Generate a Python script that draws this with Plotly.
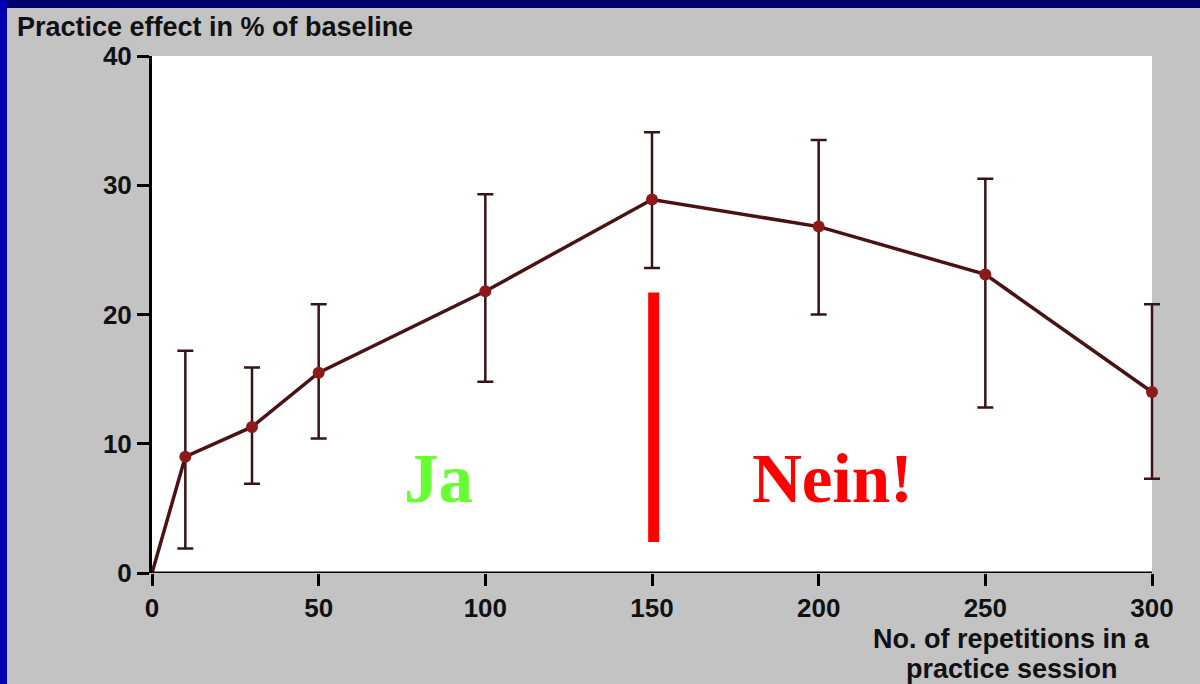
import plotly.graph_objects as go

# Data
reps = [0, 10, 30, 50, 100, 150, 200, 250, 300]
effect = [0, 9.0, 11.3, 15.5, 21.8, 28.9, 26.8, 23.1, 14.0]
upper = [0, 17.2, 15.9, 20.8, 29.3, 34.1, 33.5, 30.5, 20.8]
lower = [0, 1.9, 6.9, 10.4, 14.8, 23.6, 20.0, 12.8, 7.3]
x_ticks = [0, 50, 100, 150, 200, 250, 300]
y_ticks = [0, 10, 20, 30, 40]
x_min, x_max = 0, 300
y_min, y_max = 0, 40

err_plus = [u - m for u, m in zip(upper, effect)]
err_minus = [m - l for m, l in zip(effect, lower)]

GRAY = "#c3c3c3"
LINE = "#4a1212"
MARK = "#8c1a1a"
FONT = "Liberation Sans"

fig = go.Figure()
# white plotting panel only over the data range
fig.add_shape(type="rect", xref="x", yref="y", x0=x_min, x1=x_max, y0=y_min, y1=y_max + 0.3,
              line=dict(width=0), fillcolor="white", layer="below")
fig.add_trace(go.Scatter(
    x=reps, y=effect, mode="lines", cliponaxis=False,
    line=dict(color=LINE, width=3.5), hoverinfo="skip", showlegend=False))
fig.add_trace(go.Scatter(
    x=reps[1:], y=effect[1:], mode="markers", cliponaxis=False,
    marker=dict(color=MARK, size=12),
    error_y=dict(type="data", symmetric=False, array=err_plus[1:],
                 arrayminus=err_minus[1:], color="#3a1414", thickness=2.5, width=8),
    showlegend=False))
# x axis line only up to the last tick
fig.add_shape(type="line", xref="x", yref="y", x0=x_min, x1=x_max, y0=y_min, y1=y_min,
              line=dict(color="black", width=3), layer="above")

# red divider
fig.add_shape(type="line", xref="x", yref="y", x0=150.5, x1=150.5, y0=2.4, y1=21.7,
              line=dict(color="#ff0000", width=11))

fig.add_annotation(x=86, y=7.3, xref="x", yref="y", text="Ja", showarrow=False,
                   font=dict(family="Liberation Serif", size=69, color="#66ff33", weight="bold"))
fig.add_annotation(x=204, y=7.3, xref="x", yref="y", text="Nein!", showarrow=False,
                   font=dict(family="Liberation Serif", size=69, color="#ff0000", weight="bold"))

# axis titles (paper width = 1020 px)
fig.add_annotation(x=-0.1343, y=1.056, xref="paper", yref="paper", xanchor="left", yanchor="middle",
                   text="Practice effect in % of baseline", showarrow=False,
                   font=dict(family=FONT, size=27, color="#111111", weight="bold"))
fig.add_annotation(x=0.843, y=-0.1277, xref="paper", yref="paper", xanchor="center", yanchor="middle",
                   text="No. of repetitions in a", showarrow=False,
                   font=dict(family=FONT, size=27, color="#111111", weight="bold"))
fig.add_annotation(x=0.843, y=-0.1857, xref="paper", yref="paper", xanchor="center", yanchor="middle",
                   text="practice session", showarrow=False,
                   font=dict(family=FONT, size=27, color="#111111", weight="bold"))

# blue border (top and left)
fig.add_shape(type="rect", xref="paper", yref="paper", x0=-0.16, x1=1.06, y0=1.093, y1=1.12,
              line=dict(width=0), fillcolor="#000070", layer="above")
fig.add_shape(type="rect", xref="paper", yref="paper", x0=-0.16, x1=-0.1422, y0=-0.25, y1=1.12,
              line=dict(width=0), fillcolor="#0000b4", layer="above")

# x range extended a little past 300 so the last error bar is not clipped;
# margins keep 0 -> 152 px and 300 -> 1152 px
fig.update_layout(
    width=1200, height=684,
    margin=dict(l=152, r=28, t=56, b=111),
    paper_bgcolor=GRAY, plot_bgcolor=GRAY,
    xaxis=dict(range=[x_min, 306], tickvals=x_ticks, ticks="outside", ticklen=12, tickwidth=3,
               tickcolor="black", showline=False,
               showgrid=False, zeroline=False,
               tickfont=dict(family=FONT, size=26, color="#111111", weight="bold")),
    yaxis=dict(range=[y_min, y_max], tickvals=y_ticks, ticks="outside", ticklen=12, tickwidth=3,
               tickcolor="black", showline=True, linecolor="black", linewidth=3,
               showgrid=False, zeroline=False,
               tickfont=dict(family=FONT, size=26, color="#111111", weight="bold")),
)

fig.write_html("out.html")
